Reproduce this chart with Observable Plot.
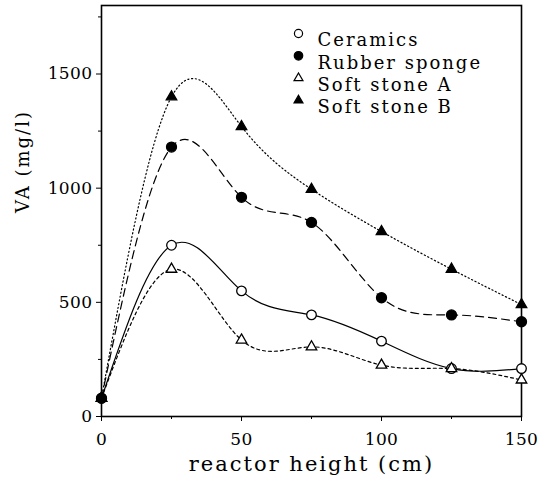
<!DOCTYPE html>
<html><head><meta charset="utf-8">
<script src="https://cdn.jsdelivr.net/npm/d3@7"></script>
<script src="https://cdn.jsdelivr.net/npm/@observablehq/plot@0.6"></script>
<style>
body{margin:0;background:#fff}
svg text{letter-spacing:2px}
g[aria-label$="tick label"] text{letter-spacing:0.4px}
</style>
</head><body><div id="chart"></div>
<script>
// Data
const heights = [0, 25, 50, 75, 100, 125, 150];
const ceramics = [80, 750, 550, 445, 330, 210, 210];
const rubberSponge = [80, 1180, 960, 850, 520, 445, 415];
const softStoneA = [80, 645, 335, 305, 225, 210, 160];
const softStoneB = [80, 1400, 1270, 995, 810, 645, 490];
const seriesNames = ["Ceramics", "Rubber sponge", "Soft stone A", "Soft stone B"];
const seriesValues = [ceramics, rubberSponge, softStoneA, softStoneB];
const xTicks = [0, 50, 100, 150];
const xMinorTicks = [25, 75, 125];
const yTicks = [0, 500, 1000, 1500];
const yMinorTicks = [250, 750, 1250, 1750];

// Styles (kept separate from data)
const symbols = ["circle", "circle", "triangle", "triangle"];
const fills = ["white", "black", "white", "black"];
const dashes = [null, "8,5", "3,3", "1.2,2.6"];
const radii = [4.8, 5, 3.9, 3.9];

const rows = seriesNames.flatMap((name, s) =>
  heights.map((h, i) => ({series: name, s, x: h, y: seriesValues[s][i]})));

const marks = [];
seriesNames.forEach((name, s) => {
  marks.push(Plot.line(rows.filter(d => d.s === s), {
    x: "x", y: "y", curve: "natural", stroke: "black", strokeWidth: 1.2,
    strokeDasharray: dashes[s]
  }));
});
seriesNames.forEach((name, s) => {
  marks.push(Plot.dot(rows.filter(d => d.s === s), {
    x: "x", y: "y", symbol: () => symbols[s], r: radii[s],
    fill: fills[s], stroke: "black", strokeWidth: 1.3
  }));
});
// legend inside the frame
seriesNames.forEach((name, s) => {
  marks.push(Plot.dot([name], {
    frameAnchor: "top-left", dx: 197, dy: 28 + s * 22.3,
    symbol: () => symbols[s], r: radii[s] * 0.85, fill: fills[s], stroke: "black", strokeWidth: 1.2
  }));
  marks.push(Plot.text([name], {
    frameAnchor: "top-left", dx: 216, dy: 28 + s * 22.3,
    text: d => d, textAnchor: "start", fontSize: 18, fill: "black"
  }));
});

const chart = Plot.plot({
  width: 545,
  height: 488,
  marginLeft: 101,
  marginRight: 24,
  marginTop: 5,
  marginBottom: 72,
  style: {fontFamily: "DejaVu Serif", fontSize: "17px", color: "black", background: "white"},
  x: {domain: [0, 150]},
  y: {domain: [0, 1800]},
  marks: [
    Plot.axisY(yTicks, {tickSize: 5, tickPadding: 4, label: null, fontSize: 17, tickFormat: d3.format("d")}),
    Plot.axisY(yMinorTicks, {tickSize: 3, tickFormat: () => "", label: null}),
    Plot.axisX(xTicks, {tickSize: 5, tickPadding: 11, label: null, fontSize: 17, tickFormat: d3.format("d")}),
    Plot.axisX(xMinorTicks, {tickSize: 3, tickFormat: () => "", label: null}),
    Plot.frame({stroke: "black", strokeWidth: 1.6}),
    ...marks,
    Plot.text(["VA (mg/l)"], {frameAnchor: "left", dx: -78, dy: 2, rotate: -90, text: d => d, fontSize: 18}),
    Plot.text(["reactor height (cm)"], {frameAnchor: "bottom", dy: 54, text: d => d, fontSize: 21})
  ]
});
document.getElementById("chart").append(chart);
</script>
</body></html>
